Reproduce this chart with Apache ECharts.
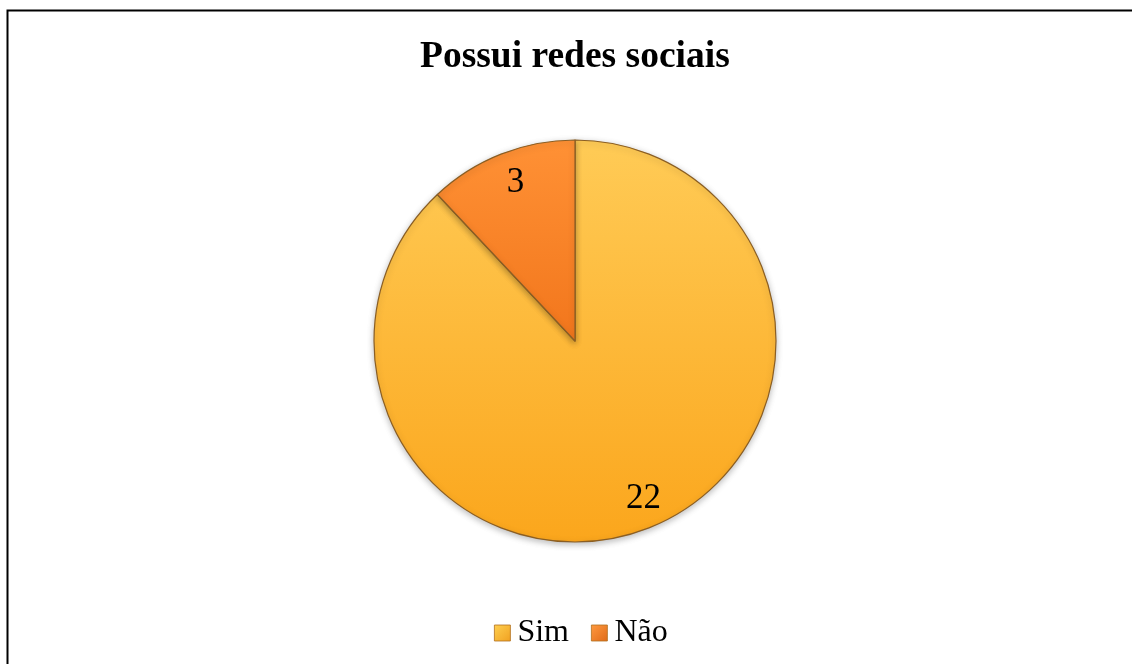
<!DOCTYPE html>
<html>
<head>
<meta charset="utf-8">
<script src="https://cdn.jsdelivr.net/npm/echarts@6/dist/echarts.min.js"></script>
<style>
html,body{margin:0;padding:0;background:#fff;}
#chart{width:1132px;height:664px;}
</style>
</head>
<body>
<div id="chart"></div>
<script>
const categories = ['Sim', 'Não'];
const values = [22, 3];
const titleText = 'Possui redes sociais';

const colors = [
  {type:'linear', x:0, y:0, x2:0, y2:1, colorStops:[{offset:0,color:'#FFCB56'},{offset:1,color:'#FBA61C'}]},
  {type:'linear', x:0, y:0, x2:0, y2:1, colorStops:[{offset:0,color:'#FF9135'},{offset:1,color:'#F2761C'}]}
];
const legendColors = [
  {type:'linear', x:0, y:0, x2:1, y2:1, colorStops:[{offset:0,color:'#FFD050'},{offset:1,color:'#F0A020'}]},
  {type:'linear', x:0, y:0, x2:1, y2:1, colorStops:[{offset:0,color:'#FF9A40'},{offset:1,color:'#E06A18'}]}
];
const labelOffsets = [[6, 0], [3, 0]];

const data = categories.map((c, i) => ({
  name: c, value: values[i],
  itemStyle: {color: colors[i]}
}));
const labelData = categories.map((c, i) => ({name: c, value: values[i], label: {offset: labelOffsets[i]}}));

const chart = echarts.init(document.getElementById('chart'));
chart.setOption({
  backgroundColor: '#ffffff',
  animation: false,
  title: {
    text: titleText,
    left: 415,
    top: 33,
    textStyle: {fontFamily: 'Liberation Serif', fontWeight: 'bold', fontSize: 37.5, color: '#000'}
  },
  legend: {
    bottom: 10,
    left: 489,
    itemWidth: 16,
    itemHeight: 16,
    itemGap: 22,
    icon: 'rect',
    textStyle: {fontFamily: 'Liberation Serif', fontSize: 32, color: '#000', padding: [3,0,0,2]},
    data: categories.map((c, i) => ({name: c, itemStyle: {color: legendColors[i], borderColor: '#B07020', borderWidth: 0.8}}))
  },
  graphic: [{
    type: 'rect', silent: true, z: 100,
    shape: {x: 7.5, y: 10.5, width: 1300, height: 1000},
    style: {fill: null, stroke: '#000', lineWidth: 2}
  }],
  series: [{
    type: 'pie',
    center: [575, 341],
    radius: [0, 201],
    startAngle: 90,
    clockwise: true,
    label: {show: false},
    labelLine: {show: false},
    itemStyle: {borderColor: '#8A5E24', borderWidth: 1.2, shadowColor: 'rgba(0,0,0,0.25)', shadowBlur: 6, shadowOffsetY: 2},
    emphasis: {disabled: true},
    data: data
  }, {
    type: 'pie',
    center: [575, 341],
    radius: [133, 201],
    startAngle: 90,
    clockwise: true,
    silent: true,
    legendHoverLink: false,
    itemStyle: {color: 'rgba(0,0,0,0)'},
    label: {show: true, position: 'inside', formatter: '{c}', fontFamily: 'Liberation Serif', fontSize: 35, color: '#000'},
    labelLine: {show: false},
    emphasis: {disabled: true},
    data: labelData
  }]
});
</script>
</body>
</html>
